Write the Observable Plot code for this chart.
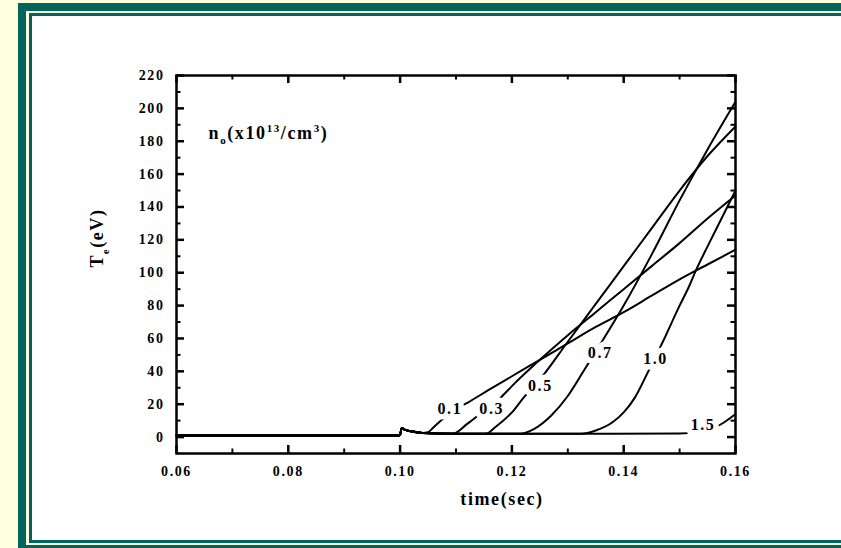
<!DOCTYPE html>
<html><head><meta charset="utf-8">
<script src="https://cdn.jsdelivr.net/npm/d3@7"></script>
<script src="https://cdn.jsdelivr.net/npm/@observablehq/plot@0.6"></script>
<style>
html,body{margin:0;padding:0;background:#FFFFE0;width:841px;height:548px;overflow:hidden}
#wrap{position:relative;width:841px;height:548px}
.band{position:absolute;right:0}
#chart{position:absolute;left:0;top:0}
.fig text{letter-spacing:1.6px}
</style></head><body>
<div id="wrap">
<div class="band" style="left:18px;top:3px;bottom:0;background:#00655B"></div>
<div class="band" style="left:26px;top:11px;bottom:3px;background:#FFFFE0"></div>
<div class="band" style="left:29px;top:13px;bottom:5px;background:#00655B"></div>
<div class="band" style="left:32px;top:16px;bottom:8px;background:#FFFFFF"></div>
<div id="chart"></div>
</div>
<script>
// ---- data ----
const xTicks = [0.06, 0.08, 0.10, 0.12, 0.14, 0.16];
const xMinor = [0.07, 0.09, 0.11, 0.13, 0.15];
const yTicks = [0, 20, 40, 60, 80, 100, 120, 140, 160, 180, 200, 220];
const yMinor = [10, 30, 50, 70, 90, 110, 130, 150, 170, 190, 210];

const series = ["0.1", "0.3", "0.5", "0.7", "1.0", "1.5"];

const t_01 = [0.06,0.0998,0.1,0.1003,0.1008,0.102,0.104,0.105,0.106,0.108,0.11,0.1121,0.116,0.12,0.125,0.13,0.135,0.14,0.145,0.15,0.155,0.16];
const T_01 = [1,1,1.5,5.5,4.5,3.5,2.5,3,6,12,17,21,29,37,47,57,67,76,86,96,105,114];

const t_03 = [0.06,0.0998,0.1,0.1003,0.1008,0.102,0.104,0.107,0.1094,0.112,0.115,0.118,0.12,0.125,0.13,0.135,0.14,0.145,0.15,0.155,0.16];
const T_03 = [1,1,1.5,5.5,4.5,3.5,2.5,2,2,8,16,24,31,47,62,76,90,104,118,133,147];

const t_05 = [0.06,0.0998,0.1,0.1003,0.1008,0.102,0.104,0.11,0.1153,0.117,0.12,0.1221,0.125,0.13,0.135,0.14,0.145,0.15,0.155,0.16];
const T_05 = [1,1,1.5,5.5,4.5,3.5,2.5,2,2,6,15,24,35,58,81,104,127,150,171,189];

const t_07 = [0.06,0.0998,0.1,0.1003,0.1008,0.102,0.104,0.11,0.1215,0.124,0.127,0.13,0.1328,0.135,0.14,0.145,0.15,0.155,0.16];
const T_07 = [1,1,1.5,5.5,4.5,3.5,2.5,2,2,5,13,25,40,52,80,111,144,175,204];

const t_10 = [0.06,0.0998,0.1,0.1003,0.1008,0.102,0.104,0.11,0.1323,0.135,0.138,0.14,0.142,0.1444,0.147,0.15,0.1516,0.153,0.155,0.1575,0.16];
const T_10 = [1,1,1.5,5.5,4.5,3.5,2.5,2,2,4,9,15,24,40,58,80,91,102,116,133,150];

const t_15 = [0.06,0.0998,0.1,0.1003,0.1008,0.102,0.104,0.11,0.13,0.15,0.153,0.1564,0.158,0.16];
const T_15 = [1,1,1.5,5.5,4.5,3.5,2.5,2,2,2.2,3,6,9,14];

const times = [t_01, t_03, t_05, t_07, t_10, t_15];
const temps = [T_01, T_03, T_05, T_07, T_10, T_15];

// curve label anchor points (time, eV)
const labelT  = [0.1089, 0.1164, 0.1251, 0.1358, 0.1457, 0.1542];
const labelTe = [17, 17.3, 31.3, 51.4, 47.7, 7.3];

// ---- build ----
const rows = series.flatMap((s, i) => times[i].map((t, j) => ({n: s, t, T: temps[i][j]})));
const labels = series.map((s, i) => ({s, t: labelT[i], T: labelTe[i]}));

const W = 841, H = 548, mL = 176, mR = 106, mT = 75, mB = 95;
const innerW = W - mL - mR, innerH = H - mT - mB;
const major = 8, minor = 4.5;
const serif = "'Liberation Serif','Times New Roman',serif";

const chart = Plot.plot({
  width: W, height: H,
  marginLeft: mL, marginRight: mR, marginTop: mT, marginBottom: mB,
  className: "fig",
  style: {background: "transparent", fontFamily: serif, fontWeight: "bold", fontSize: "14px", color: "black"},
  x: {domain: [0.06, 0.16]},
  y: {domain: [-10, 220]},
  marks: [
    Plot.line(rows, {x: "t", y: "T", z: "n", curve: "monotone-x", stroke: "black", strokeWidth: 2}),
    Plot.tickX(xTicks, {x: d => d, insetTop: innerH - major, strokeWidth: 2.5}),
    Plot.tickX(xTicks, {x: d => d, insetBottom: innerH - major, strokeWidth: 2.5}),
    Plot.tickX(xMinor, {x: d => d, insetTop: innerH - minor, strokeWidth: 2}),
    Plot.tickX(xMinor, {x: d => d, insetBottom: innerH - minor, strokeWidth: 2}),
    Plot.tickY(yTicks, {y: d => d, insetRight: innerW - major, strokeWidth: 2.5}),
    Plot.tickY(yTicks, {y: d => d, insetLeft: innerW - major, strokeWidth: 2.5}),
    Plot.tickY(yMinor, {y: d => d, insetRight: innerW - minor, strokeWidth: 2}),
    Plot.tickY(yMinor, {y: d => d, insetLeft: innerW - minor, strokeWidth: 2}),
    Plot.frame({stroke: "black", strokeWidth: 2.5}),
    Plot.axisX({ticks: xTicks, tickSize: 0, tickPadding: 13, tickFormat: d3.format(".2f"), label: null, fontSize: 14}),
    Plot.axisY({ticks: yTicks, tickSize: 0, tickPadding: 12, label: null, fontSize: 14}),
    Plot.text(labels, {x: "t", y: "T", text: "s", fontSize: 16, fill: "black", stroke: "white", strokeWidth: 11, strokeLinejoin: "round", paintOrder: "stroke"}),
    Plot.text(["time(sec)"], {frameAnchor: "bottom", text: d => d, dx: 46, dy: 51, fontSize: 18}),
    Plot.text(["Te(eV)"], {frameAnchor: "left", text: d => d, dx: -79, dy: 3, rotate: -90, fontSize: 18}),
    Plot.text(["no(x1013/cm3)"], {frameAnchor: "top-left", text: d => d, textAnchor: "start", dx: 32, dy: 51, fontSize: 18})
  ]
});
document.getElementById("chart").appendChild(chart);

// sub/superscripts as real text tspans
function rich(el, parts) {
  while (el.firstChild) el.removeChild(el.firstChild);
  let cur = 0;
  for (const [s, off, size] of parts) {
    const ts = document.createElementNS("http://www.w3.org/2000/svg", "tspan");
    ts.setAttribute("dy", off - cur);
    cur = off;
    if (size) ts.setAttribute("font-size", size);
    ts.textContent = s;
    el.appendChild(ts);
  }
}
chart.querySelectorAll("text").forEach(el => {
  if (el.textContent === "Te(eV)") {
    rich(el, [["T", 0], ["e", 6, 10], ["(eV)", 0]]);
  } else if (el.textContent === "no(x1013/cm3)") {
    rich(el, [["n", 0], ["o", 5, 11], ["(x10", 0], ["13", -7, 11], ["/cm", 0], ["3", -7, 11], [")", 0]]);
  }
});
</script>
</body></html>
